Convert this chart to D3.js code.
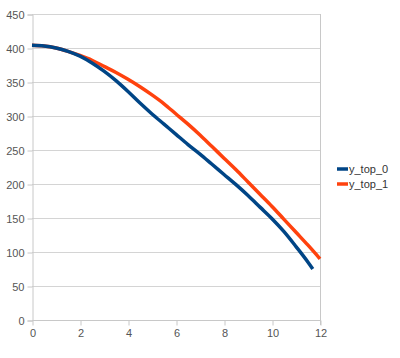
<!DOCTYPE html>
<html><head><meta charset="utf-8">
<script src="https://cdn.jsdelivr.net/npm/d3@7"></script>
<style>body{margin:0;background:#fff}svg{display:block}text{font-family:"Liberation Sans",Arial,sans-serif}</style>
</head><body>
<script>
const xBlue = [0,0.5,1,1.5,2,2.5,3,3.5,4,4.5,5,5.5,6,6.5,7,7.5,8,8.5,9,9.5,10,10.5,11,11.5,11.7];
const yBlue = [404,403,400,395,388,378,366,352,336,319,303,288,273,258,244,229,214,199,183,166,149,130,108,85,75];
const xRed = [0,0.5,1,1.5,2,2.5,3,3.5,4,4.5,5,5.5,6,6.5,7,7.5,8,8.5,9,9.5,10,10.5,11,11.5,12];
const yRed = [404,403,400,395,389,382,373,364,354,343,331,318,303,288,272,255,238,221,203,185,167,148,129,110,90];
const seriesNames = ["y_top_0","y_top_1"];
const seriesColors = ["#004586","#ff420e"];
const xTicks = [0,2,4,6,8,10,12];
const yTicks = [0,50,100,150,200,250,300,350,400,450];

const W=400,H=358;
const svg=d3.select("body").append("svg").attr("width",W).attr("height",H);
const x=d3.scaleLinear().domain([0,12]).range([32,320]);
const y=d3.scaleLinear().domain([0,450]).range([320,14]);

svg.append("g").selectAll("line").data(yTicks).join("line")
  .attr("x1",32).attr("x2",320).attr("y1",d=>y(d)+0.5).attr("y2",d=>y(d)+0.5)
  .attr("stroke","#d4d4d4").attr("stroke-width",1);
svg.append("line").attr("x1",320.5).attr("x2",320.5).attr("y1",y(450)).attr("y2",y(0)+5)
  .attr("stroke","#c8c8c8");

const yAxis=d3.axisLeft(y).tickValues(yTicks).tickSize(5).tickPadding(3);
const gy=svg.append("g").attr("transform","translate(32.5,0.5)").call(yAxis);
const xAxis=d3.axisBottom(x).tickValues(xTicks).tickSize(5).tickPadding(4);
const gx=svg.append("g").attr("transform","translate(0.5,320.5)").call(xAxis);
[gy,gx].forEach(g=>{
  g.select(".domain").attr("stroke","#c8c8c8");
  g.selectAll(".tick line").attr("stroke","#c8c8c8");
  g.selectAll(".tick text").attr("fill","#555").attr("font-size","11px").attr("font-family","Liberation Sans, Arial, sans-serif");
});
gx.select(".domain").remove();
gx.append("line").attr("x1",32).attr("x2",320).attr("stroke","#c8c8c8");

const line=d3.line().x(d=>x(d[0])).y(d=>y(d[1])).curve(d3.curveMonotoneX);
const data=[xBlue.map((v,i)=>[v,yBlue[i]]), xRed.map((v,i)=>[v,yRed[i]])];
svg.append("path").datum(data[1]).attr("d",line).attr("fill","none").attr("stroke",seriesColors[1]).attr("stroke-width",3.5).attr("stroke-linejoin","round");
svg.append("path").datum(data[0]).attr("d",line).attr("fill","none").attr("stroke",seriesColors[0]).attr("stroke-width",3.5).attr("stroke-linejoin","round");

const lg=svg.append("g");
seriesNames.forEach((n,i)=>{
  const yy=169+i*15;
  lg.append("line").attr("x1",337).attr("x2",348).attr("y1",yy).attr("y2",yy).attr("stroke",seriesColors[i]).attr("stroke-width",3.5);
  lg.append("text").attr("x",349).attr("y",yy+4).attr("font-size","11px").attr("fill","#333").text(n);
});
</script>
</body></html>
